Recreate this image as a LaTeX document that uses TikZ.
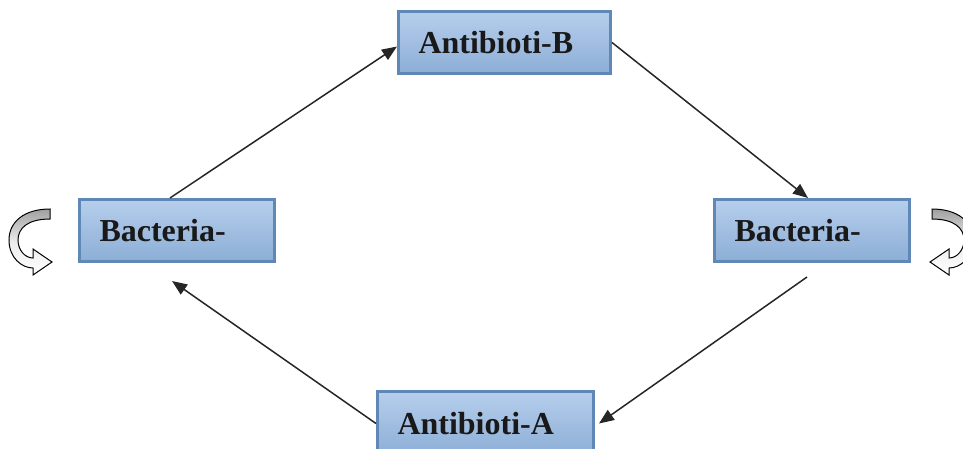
\documentclass[tikz,border=0pt]{standalone}
\usepackage{fontspec}
\setmainfont{Liberation Serif}
\usetikzlibrary{arrows.meta,calc}
\definecolor{boxtop}{RGB}{182,206,236}
\definecolor{boxbot}{RGB}{140,174,214}
\definecolor{boxline}{RGB}{96,136,182}
\tikzset{
  box/.style={draw=boxline, line width=3pt, top color=boxtop, bottom color=boxbot,
    anchor=north west, inner xsep=20pt, inner ysep=0pt, align=left,
    font=\fontsize{32}{36}\selectfont\bfseries, text=black!90},
  conn/.style={draw=black!85, line width=1.5pt, -{Triangle[length=15pt,width=12pt]}},
  uturn/.style={draw=black, line width=1pt, top color=gray!75, bottom color=white, middle color=gray!15}
}
\newcommand\uturnshape{(50,209) .. controls (24,209) and (9,222) .. (9,240)
  .. controls (9,258) and (22,268) .. (33,268) -- (33,275) -- (52,262) -- (33,249) -- (33,258)
  .. controls (25,258) and (18,250) .. (18,240) .. controls (18,228) and (28,219) .. (50,219) -- cycle}
\begin{document}
\begin{tikzpicture}[x=1pt,y=-1pt]
\useasboundingbox (0,0) rectangle (963,448);
\node[box, minimum width=212pt, minimum height=62pt, text width=172pt] (ab) at (397,10) {Antibioti-B};
\node[box, minimum width=216pt, minimum height=64pt, text width=176pt] (aa) at (376,390) {Antibioti-A};
\node[box, minimum width=195pt, minimum height=62pt, text width=155pt] (bl) at (78,198) {Bacteria-};
\node[box, minimum width=195pt, minimum height=62pt, text width=155pt] (br) at (713,198) {Bacteria-};
\draw[conn] ($(bl.north west)+(92,0)$) -- ($(ab.west)+(0,4)$);
\draw[conn] ($(ab.east)+(0,0)$) -- ($(br.north west)+(95,0)$);
\draw[conn] ($(br.south west)+(94,14)$) -- ($(aa.east)+(4,0)$);
\draw[conn] (aa.west) -- ($(bl.south west)+(94,18)$);
\path[uturn] \uturnshape;
\begin{scope}[shift={(982,0)}, xscale=-1]
\path[uturn] \uturnshape;
\end{scope}
\end{tikzpicture}
\end{document}
